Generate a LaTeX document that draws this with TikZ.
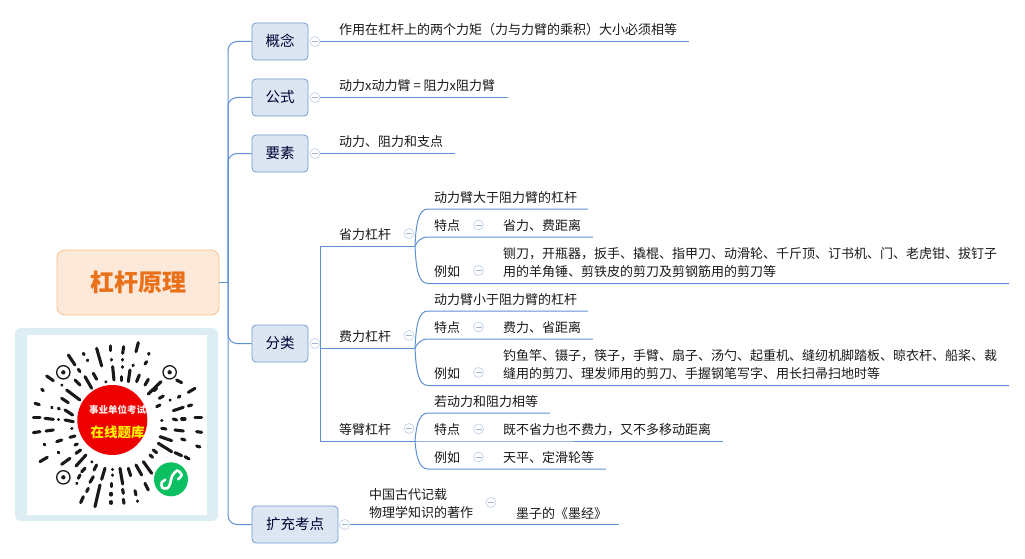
\documentclass[tikz,border=0pt]{standalone}
\usepackage{fontspec}
\setmainfont{Noto Sans CJK SC}
\definecolor{branchblue}{HTML}{5D90D2}
\definecolor{boxfill}{HTML}{DCE6F2}
\definecolor{boxedge}{HTML}{6F9BD1}
\definecolor{rootfill}{HTML}{FDE9DA}
\definecolor{rootedge}{HTML}{FBC08C}
\definecolor{rootink}{HTML}{E8711A}
\definecolor{foldedge}{HTML}{C9D6F0}
\definecolor{foldink}{HTML}{A3B3D2}
\definecolor{frameblue}{HTML}{DCEDF3}
\definecolor{codered}{HTML}{EE0000}
\definecolor{codegreen}{HTML}{0CBF60}
\tikzset{
  branch/.style={draw=branchblue, line width=1pt},
  topicbox/.style={draw=boxedge, fill=boxfill, line width=0.8pt, rounded corners=4pt,
    minimum height=37pt, inner sep=0pt, text=black!80!blue, text height=13pt, text depth=3pt,
    font=\fontsize{14.5}{18}\selectfont},
  leaftext/.style={anchor=west, inner sep=0pt, yshift=-2pt, align=left, text=black!90,
    text height=10pt, text depth=3pt, font=\fontsize{13}{18}\selectfont},
  foldmark/.style={circle, draw=foldedge, fill=white, line width=0.8pt, minimum size=10pt, inner sep=0pt,
    path picture={\draw[foldink, line width=0.7pt] ([xshift=-3pt]path picture bounding box.center) -- ([xshift=3pt]path picture bounding box.center);}},
  codeline/.style={black!90, line width=3.1pt, line cap=round}
}
\begin{document}
\begin{tikzpicture}[x=1pt, y=-1pt]
  \useasboundingbox (0,0) rectangle (1025,559);

  \node[draw=rootedge, fill=rootfill, line width=0.8pt, rounded corners=8pt, minimum width=162pt, minimum height=65pt,
    inner sep=0pt, text=rootink, font=\fontsize{24}{28}\selectfont\bfseries] (root) at (138,282.5) {杠杆原理};
  \coordinate (trunk) at (228,282.5);
  \draw[branch] (root.east) -- (trunk);

  % upper topics
  \foreach \name/\yy/\lab/\xend/\txt in {
      gainian/41.5/概念/689/作用在杠杆上的两个力矩（力与力臂的乘积）大小必须相等,
      gongshi/97.5/公式/508/动力x动力臂 = 阻力x阻力臂,
      yaosu/153.5/要素/455/动力、阻力和支点} {
    \node[topicbox, minimum width=56pt] (\name) at (280,\yy) {\lab};
    \node[foldmark] (\name fold) at (315,\yy) {};
    \coordinate (\name end) at (\xend,\yy);
    \node[leaftext] (\name text) at (339,\yy-12.5) {\txt};
    \draw[branch, rounded corners=9pt] (\name.west) -| (trunk);
    \draw[branch] (\name fold.east) -- (\name end);
  }

  % classification
  \node[topicbox, minimum width=56pt] (fenlei) at (280,343.5) {分类};
  \node[foldmark] (fenleifold) at (315,343.5) {};
  \coordinate (bus) at (320,343.5);
  \draw[branch, rounded corners=9pt] (fenlei.west) -| (trunk);
  \draw[branch] (fenleifold.east) -- (bus);

  \foreach \jn/\lab/\yj/\ya/\xa/\yb/\xb/\yc/\xc in {
      sheng/省力杠杆/246/209/588/237/593/283.5/1009,
      fei/费力杠杆/348/311/588/339/593/385.5/1009,
      deng/等臂杠杆/441/413/550/441/723/469/606} {
    \coordinate (\jn j) at (415,\yj);
    \coordinate (\jn aend) at (\xa,\ya);
    \coordinate (\jn bend) at (\xb,\yb);
    \coordinate (\jn cend) at (\xc,\yc);
    \node[leaftext] (\jn) at (339,\yj-12) {\lab};
    \node[foldmark] (\jn fold) at (409,\yj-12.5) {};
    \draw[branch] (bus) |- (\jn j);
    \draw[branch] (\jn j) .. controls (416,\ya+16) and (418,\ya) .. (428,\ya) -- (\jn aend);
    \draw[branch] (\jn j) .. controls (417,{\yb+(\yj-\yb)*0.6}) and (420,\yb) .. (428,\yb) -- (\jn bend);
    \draw[branch] (\jn j) .. controls (416,\yc-16) and (418,\yc) .. (428,\yc) -- (\jn cend);
  }

  \node[leaftext] (shengtop) at (434,197) {动力臂大于阻力臂的杠杆};
  \node[leaftext] (shengpt) at (434,225) {特点};
  \node[foldmark] (shengptfold) at (478.5,225) {};
  \node[leaftext] (shengpttext) at (503,225) {省力、费距离};
  \node[leaftext] (shengeg) at (434,271) {例如};
  \node[foldmark] (shengegfold) at (478.5,270.5) {};
  \node[leaftext] (shengegtext) at (503,271) {铡刀，开瓶器，扳手、撬棍、指甲刀、动滑轮、千斤顶、订书机、门、老虎钳、拔钉子\\用的羊角锤、剪铁皮的剪刀及剪钢筋用的剪刀等};

  \node[leaftext] (feitop) at (434,299) {动力臂小于阻力臂的杠杆};
  \node[leaftext] (feipt) at (434,327) {特点};
  \node[foldmark] (feiptfold) at (478.5,327) {};
  \node[leaftext] (feipttext) at (503,327) {费力、省距离};
  \node[leaftext] (feieg) at (434,373) {例如};
  \node[foldmark] (feiegfold) at (478.5,372.5) {};
  \node[leaftext] (feiegtext) at (503,373) {钓鱼竿、镊子，筷子，手臂、扇子、汤勺、起重机、缝纫机脚踏板、晾衣杆、船桨、裁\\缝用的剪刀、理发师用的剪刀、手握钢笔写字、用长扫帚扫地时等};

  \node[leaftext] (dengtop) at (434,401) {若动力和阻力相等};
  \node[leaftext] (dengpt) at (434,429) {特点};
  \node[foldmark] (dengptfold) at (478.5,429) {};
  \node[leaftext] (dengpttext) at (503,429) {既不省力也不费力，又不多移动距离};
  \node[leaftext] (dengeg) at (434,457) {例如};
  \node[foldmark] (dengegfold) at (478.5,457) {};
  \node[leaftext] (dengegtext) at (503,457) {天平、定滑轮等};

  % extension topic
  \node[topicbox, minimum width=86pt] (kuochong) at (295,524.5) {扩充考点};
  \node[foldmark] (kuochongfold) at (344.5,524.5) {};
  \coordinate (kuochongend) at (619,524.5);
  \draw[branch, rounded corners=9pt] (kuochong.west) -| (trunk);
  \draw[branch] (kuochongfold.east) -- (kuochongend);
  \node[leaftext] (kuochongq) at (369,512) {中国古代记载\\物理学知识的著作};
  \node[foldmark] (kuochongqfold) at (491,502.5) {};
  \node[leaftext] (kuochonga) at (516,513) {墨子的《墨经》};

  % code picture
  \fill[frameblue, rounded corners=6pt] (15,328) rectangle (218,521);
  \fill[white] (27,335) rectangle (207,515);
  \begin{scope}[shift={(0,320)}, x=0.3333pt, y=-0.3333pt]
    \foreach \xa/\ya/\xb/\yb in {
        415/68/408/95, 371/80/368/100, 332/78/332/92, 290/85/305/138, 250/100/252/104, 262/120/263/122,
        205/105/225/135, 447/100/446/103, 440/125/435/132, 335/118/335/120, 367/118/367/120, 367/140/367/142,
        400/135/399/137, 338/140/342/180, 365/170/365/182, 390/150/385/185, 418/165/410/185, 235/148/240/155,
        255/170/275/205, 280/160/290/178, 318/185/317/186, 445/178/435/195, 483/185/445/222, 140/168/160/182,
        225/180/240/195, 185/195/186/196, 200/210/240/240, 125/208/130/212, 530/180/545/188, 470/205/462/212,
        490/228/478/235, 510/240/511/241, 585/205/565/217, 540/228/535/232, 105/250/118/254, 185/235/205/248,
        155/262/156/263, 175/265/178/267, 195/270/218/285, 480/255/470/260, 575/255/565/258, 550/262/520/272,
        100/293/120/293, 135/295/160/298, 175/298/176/298, 195/300/220/305, 485/302/486/302, 585/293/605/293,
        520/297/530/300, 545/297/555/297, 100/338/120/335, 138/333/160/330, 215/325/216/325, 485/325/498/327,
        525/330/550/333, 590/335/605/337, 170/365/185/360, 210/352/225/348, 480/350/515/362, 545/357/555/360,
        133/373/134/374, 225/375/232/372, 475/370/515/395, 590/378/600/381, 175/397/176/398, 228/400/242/390,
        460/390/470/398, 525/398/545/407, 555/410/567/417, 120/425/142/412, 185/433/210/415, 228/438/258/405,
        450/405/458/412, 430/425/455/460, 275/425/276/426, 408/435/425/465, 385/445/392/467, 360/445/368/492,
        338/448/338/449, 315/445/305/478, 290/435/282/450, 255/445/245/455, 280/470/270/487, 240/465/235/475,
        230/490/231/491, 338/465/338/466, 335/490/335/500, 265/505/260/515, 300/495/285/560, 250/530/242/548,
        333/520/333/525, 333/545/333/550, 368/508/370/520, 370/538/372/550, 405/512/408/525, 412/543/412/544,
        435/490/445/510} {
      \draw[codeline] (\xa,\ya) -- (\xb,\yb);
    }
    \foreach \xa/\ya in {190/157, 509/157, 190/472} {
      \fill[white] (\xa,\ya) circle (22);
      \draw[black!90, line width=1.3pt] (\xa,\ya) circle (20);
      \fill[black!90] (\xa,\ya) circle (6.5);
    }
    \node[circle, fill=codered, minimum size=70pt, inner sep=0pt] (seal) at (337,300) {};
    \node[inner sep=0pt, text=white!92!red, font=\fontsize{9.5}{11}\selectfont\bfseries] (sealtop) at (353,270) {事业单位考试};
    \node[inner sep=0pt, text=yellow, font=\fontsize{13.5}{15}\selectfont\bfseries] (sealbottom) at (353,338) {在线题库};
    \node[circle, fill=codegreen, minimum size=34pt, inner sep=0pt] (badge) at (513,478) {};
    \draw[white, line width=2.6pt, line cap=round] plot[smooth] coordinates {(496,479) (485,488) (487,503) (502,505) (510,492) (517,467) (532,452) (545,465) (534,478)};
  \end{scope}
\end{tikzpicture}
\end{document}
